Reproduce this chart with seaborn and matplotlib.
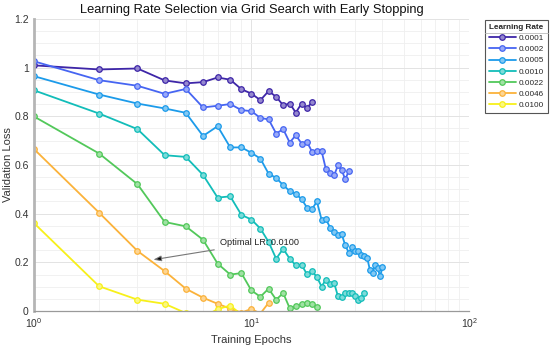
import numpy as np
import pandas as pd
import matplotlib
matplotlib.use("Agg")
import matplotlib.pyplot as plt
import seaborn as sns
from matplotlib.ticker import FixedLocator, MultipleLocator, LogLocator, NullFormatter
from matplotlib.lines import Line2D
from matplotlib.colors import to_rgb

# ---------------- data ----------------
learning_rates = ["0.0001", "0.0002", "0.0005", "0.0010", "0.0022", "0.0046", "0.0100"]
colors = ["#3E26A8", "#4665F2", "#1C9BEA", "#12BDB9", "#52C85A", "#FBB23A", "#F7F01A"]

loss_0001 = [1.009, 0.992, 0.996, 0.947, 0.935, 0.940, 0.959, 0.950, 0.911, 0.893,
             0.866, 0.903, 0.880, 0.845, 0.852, 0.815, 0.852, 0.832, 0.859]
loss_0002 = [1.026, 0.948, 0.925, 0.892, 0.912, 0.836, 0.843, 0.850, 0.825, 0.821,
             0.793, 0.787, 0.729, 0.747, 0.692, 0.722, 0.688, 0.695, 0.654, 0.658,
             0.658, 0.582, 0.569, 0.558, 0.599, 0.578, 0.541, 0.575]
loss_0005 = [0.965, 0.889, 0.852, 0.832, 0.814, 0.719, 0.759, 0.672, 0.672, 0.650,
             0.626, 0.564, 0.547, 0.517, 0.493, 0.481, 0.460, 0.425, 0.419, 0.450,
             0.376, 0.377, 0.343, 0.325, 0.311, 0.315, 0.270, 0.240, 0.262, 0.245,
             0.247, 0.229, 0.226, 0.220, 0.170, 0.156, 0.188, 0.177, 0.143, 0.181]
loss_0010 = [0.907, 0.811, 0.747, 0.640, 0.633, 0.559, 0.466, 0.471, 0.395, 0.376,
             0.339, 0.284, 0.215, 0.256, 0.215, 0.188, 0.191, 0.151, 0.164, 0.140,
             0.101, 0.129, 0.110, 0.115, 0.060, 0.058, 0.074, 0.074, 0.074, 0.060,
             0.044, 0.055, 0.074]
loss_0022 = [0.800, 0.647, 0.521, 0.366, 0.348, 0.293, 0.195, 0.150, 0.156, 0.085,
             0.059, 0.092, 0.047, 0.074, 0.012, 0.019, 0.030, 0.033, 0.028, 0.016]
loss_0046 = [0.667, 0.404, 0.247, 0.164, 0.092, 0.055, 0.030, 0.010, -0.006, 0.009,
             -0.010, 0.034]
loss_0100 = [0.363, 0.102, 0.047, 0.030, -0.008, -0.025, 0.008, 0.023, -0.015]

series = [loss_0001, loss_0002, loss_0005, loss_0010, loss_0022, loss_0046, loss_0100]

y_ticks = [0.0, 0.2, 0.4, 0.6, 0.8, 1.0, 1.2]
y_tick_labels = ["0", "0.2", "0.4", "0.6", "0.8", "1", "1.2"]

annot_text = "Optimal LR: 0.0100"
annot_xy = (3.55, 0.211)
annot_xytext = (7.2, 0.282)

# ---------------- styling ----------------
sns.set_style("white")
plt.rcParams["font.family"] = ["Liberation Sans", "DejaVu Sans"]
plt.rcParams["mathtext.fontset"] = "custom"
plt.rcParams["mathtext.rm"] = "Liberation Sans"
plt.rcParams["mathtext.it"] = "Liberation Sans"

fig = plt.figure(figsize=(5.5, 3.48), dpi=100)
ax = fig.add_axes([0.061, 0.106, 0.792, 0.840])

rows = []
for lr, vals in zip(learning_rates, series):
    for i, v in enumerate(vals):
        rows.append({"epoch": i + 1, "loss": v, "lr": lr})
df = pd.DataFrame(rows)

for lr, c in zip(learning_rates, colors):
    sub = df[df["lr"] == lr]
    r, g, b = to_rgb(c)
    light = (r * 0.55 + 0.45, g * 0.55 + 0.45, b * 0.55 + 0.45)
    sns.lineplot(data=sub, x="epoch", y="loss", ax=ax, color=c, lw=1.3,
                 marker="o", markersize=4.0, markerfacecolor=light,
                 markeredgecolor=c, markeredgewidth=0.9, label=lr,
                 estimator=None, sort=False)

ax.set_xscale("log")
ax.set_xlim(1, 100)
ax.set_ylim(0, 1.2)

ax.yaxis.set_major_locator(FixedLocator(y_ticks))
ax.yaxis.set_minor_locator(MultipleLocator(0.05))
ax.set_yticklabels(y_tick_labels)
ax.xaxis.set_major_locator(LogLocator(base=10))
ax.xaxis.set_minor_locator(LogLocator(base=10, subs=np.arange(2, 10)))
ax.xaxis.set_minor_formatter(NullFormatter())

ax.grid(True, which="major", color="#E3E3E3", lw=0.7)
ax.grid(True, which="minor", color="#EFEFEF", lw=0.6)
ax.set_axisbelow(True)

for s in ["top", "right"]:
    ax.spines[s].set_visible(False)
ax.spines["left"].set_color("#B5B5B5")
ax.spines["left"].set_linewidth(2.0)
ax.spines["bottom"].set_color("#9A9A9A")
ax.spines["bottom"].set_linewidth(0.9)

ax.tick_params(axis="both", which="major", direction="in", length=3.5, width=0.6,
               colors="#7A7A7A", labelcolor="#333333", labelsize=7.5)
ax.tick_params(axis="both", which="minor", direction="in", length=2, width=0.5,
               colors="#7A7A7A")

ax.set_xlabel("Training Epochs", fontsize=8, color="#333333", labelpad=4)
ax.set_ylabel("Validation Loss", fontsize=8, color="#333333", labelpad=1)
ax.set_title("Learning Rate Selection via Grid Search with Early Stopping",
             fontsize=9.3, color="#111111", pad=4)

ax.annotate(annot_text, xy=annot_xy, xytext=annot_xytext, fontsize=6.6,
            color="#222222", ha="left", va="center",
            arrowprops=dict(arrowstyle="-|>,head_length=0.7,head_width=0.25",
                            fc="black", ec="#777777", lw=0.8, shrinkA=2, shrinkB=0))

leg = ax.legend(loc="upper left", bbox_to_anchor=(1.037, 0.995), fontsize=5.9,
                title="Learning Rate", title_fontproperties={"weight": "bold", "size": 5.9},
                frameon=True, fancybox=False, edgecolor="#555555", framealpha=1,
                handlelength=3.3, handletextpad=0.3, labelspacing=0.42,
                borderpad=0.45, borderaxespad=0)
leg.get_frame().set_linewidth(0.8)

fig.canvas.draw()
# separator line under legend title
bb = leg.get_frame().get_window_extent()
tb = leg.get_title().get_window_extent()
y_sep = tb.y0 - 2
fig.add_artist(Line2D([bb.x0 / fig.bbox.width, bb.x1 / fig.bbox.width],
                      [y_sep / fig.bbox.height, y_sep / fig.bbox.height],
                      color="#BBBBBB", lw=0.6))

fig.savefig("out.png", dpi=100)
